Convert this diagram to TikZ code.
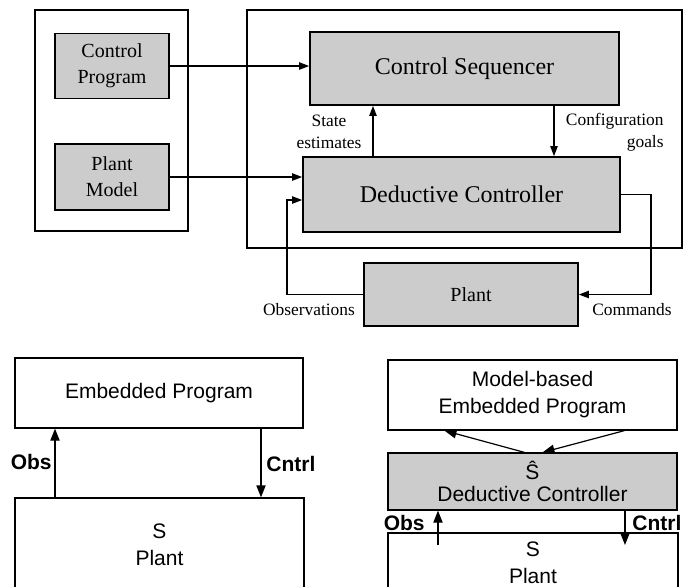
\documentclass[tikz,border=0pt]{standalone}
\usepackage{fontspec}
\setmainfont{Liberation Serif}
\setsansfont{Liberation Sans}
\usetikzlibrary{arrows.meta}

\begin{document}
\begin{tikzpicture}[x=0.5pt, y=-0.5pt]
    \tikzset{sized/.style 2 args={minimum width=0.5*#1 pt, minimum height=0.5*#2 pt},
             frame/.style={draw, line width=0.8pt, inner sep=0pt},
             gbox/.style={frame, fill=gray!40, align=center},
             sbox/.style={draw, line width=0.6pt, inner sep=0pt, align=center, font=\sffamily\fontsize{10.5}{13.5}\selectfont},
             arr/.style={line width=0.8pt, -{Triangle[length=5pt, width=3.6pt]}},
             sarr/.style={line width=0.6pt, -{Triangle[length=6pt, width=4.6pt]}},
             tlbl/.style={font=\fontsize{8.7}{11.2}\selectfont, inner sep=0pt},
             slbl/.style={font=\sffamily\bfseries\fontsize{10.5}{12}\selectfont, inner sep=0pt}}
    \useasboundingbox (0,0) rectangle (692,586);
    \clip (0,0) rectangle (692,586);

    % top: deductive controller in its loop
    \node[frame, sized={153}{221}] (progframe) at (111.5,120.5) {};
    \node[frame, sized={435}{238}] (ctrlframe) at (464.5,129) {};
    \node[gbox, sized={114}{65}, font=\fontsize{10}{13}\selectfont] (cprog) at (112,66) {Control\\Program};
    \node[gbox, sized={114}{66}, font=\fontsize{10}{13}\selectfont] (pmodel) at (112,177) {Plant\\Model};
    \node[gbox, sized={309}{73}, font=\fontsize{12}{14}\selectfont] (cseq) at (464.5,68.5) {Control Sequencer};
    \node[gbox, sized={317}{75}, font=\fontsize{12}{14}\selectfont] (dctrl) at (461.5,194.5) {Deductive Controller};
    \node[gbox, sized={214}{63}, font=\fontsize{10}{13}\selectfont] (plant) at (471,294.5) {Plant};

    \coordinate (sest) at (373,0);
    \coordinate (cgoal) at (554,0);
    \coordinate (obsc) at (287,200);
    \coordinate (cmdc) at (651,0);

    \draw[arr] (cprog.east) -- (cprog.east -| cseq.west);
    \draw[arr] (pmodel.east) -- (pmodel.east -| dctrl.west);
    \draw[arr] (dctrl.north -| sest) -- (cseq.south -| sest);
    \draw[arr] (cseq.south -| cgoal) -- (dctrl.north -| cgoal);
    \draw[arr] (plant.west) -| (obsc) -- (obsc -| dctrl.west); %obs
    \draw[arr] (dctrl.east) -- (dctrl.east -| cmdc) |- (plant.east); %cmd

    \node[tlbl, align=center] (selbl) at (329,132) {State\\estimates};
    \node[tlbl, align=right, anchor=east] (cglbl) at (664,132) {Configuration\\goals};
    \node[tlbl] (obslbl) at (309,310) {Observations};
    \node[tlbl] (cmdlbl) at (632,310) {Commands};

    % bottom left: embedded program
    \node[sbox, sized={288}{70}] (ep) at (159,393) {Embedded Program};
    \node[sbox, sized={289}{94}] (lplant) at (159.5,545) {S\\Plant};
    \coordinate (lobs) at (55,0);
    \coordinate (lcntrl) at (261,0);
    \draw[sarr] (lplant.north -| lobs) -- (ep.south -| lobs);
    \draw[sarr] (ep.south -| lcntrl) -- (lplant.north -| lcntrl);
    \node[slbl, anchor=east] (lobslbl) at (52,462) {Obs};
    \node[slbl, anchor=west] (lcntrllbl) at (266,464) {Cntrl};

    % bottom right: model-based embedded program
    \node[sbox, sized={289}{70}] (mep) at (532.5,395) {Model-based\\Embedded Program};
    \node[sbox, sized={289}{57}, fill=gray!40, font=\sffamily\fontsize{10.5}{11}\selectfont] (ddc) at (532.5,481.5) {Ŝ\\Deductive Controller};
    \node[sbox, sized={290}{59}] (rplant) at (533,562.5) {S\\Plant};
    \coordinate (robs) at (438,545);
    \coordinate (rcntrl) at (625,545);
    \draw[sarr] ([xshift=-4pt]ddc.north) -- ([xshift=-44pt]mep.south);
    \draw[sarr] ([xshift=46pt]mep.south) -- ([xshift=5pt]ddc.north);
    \draw[sarr] (robs) -- (robs |- ddc.south);
    \draw[sarr] (rcntrl |- ddc.south) -- (rcntrl);
    \node[slbl, anchor=east] (robslbl) at (425,523) {Obs};
    \node[slbl, anchor=west] (rcntrllbl) at (632,523) {Cntrl};
\end{tikzpicture}
\end{document}
